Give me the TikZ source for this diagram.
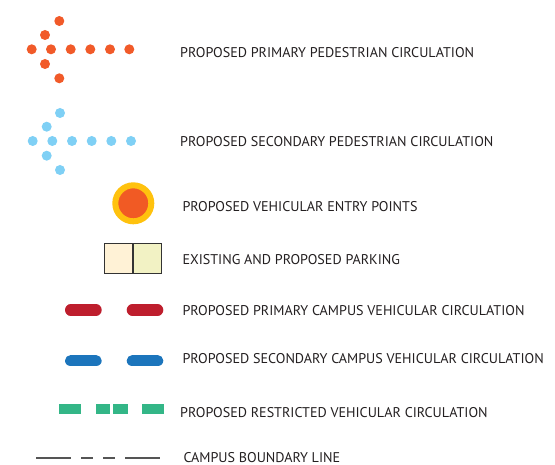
\documentclass[tikz,border=0pt]{standalone}
\usepackage{fontspec}
\setmainfont{PT Sans}
\usetikzlibrary{positioning}
\definecolor{pedorange}{HTML}{F15A29}
\definecolor{pedblue}{HTML}{7FD0F5}
\definecolor{entryyellow}{HTML}{FFC20E}
\definecolor{entryorange}{HTML}{F15A24}
\definecolor{parkleft}{HTML}{FFF2D6}
\definecolor{parkright}{HTML}{F2F2C4}
\definecolor{vehred}{HTML}{BE1E2D}
\definecolor{vehblue}{HTML}{1C75BC}
\definecolor{restgreen}{HTML}{33B687}
\definecolor{linegray}{HTML}{555555}
\definecolor{textgray}{HTML}{231F20}
\begin{document}
\begin{tikzpicture}[x=1pt,y=-1pt,
        dot/.style={circle,fill=#1,minimum size=10pt,inner sep=0pt},
        lbl/.style={anchor=west,inner sep=0pt,text=textgray,font=\fontsize{14.1}{16}\selectfont},
        bar/.style={line width=11.4pt,line cap=round,#1},
        greenbox/.style={fill=restgreen,draw=none}]
\useasboundingbox (0,0) rectangle (555,465);

% primary pedestrian arrow
\foreach \i/\x in {1/31.7,2/51,3/70.7,4/90.3,5/110,6/129.3}
    \node[dot=pedorange] (pp\i) at (\x,49.3) {};
\node[dot=pedorange] (pu1) at (45,35) {};
\node[dot=pedorange] (pu2) at (59.3,21) {};
\node[dot=pedorange] (pd1) at (45,64) {};
\node[dot=pedorange] (pd2) at (59.3,78.3) {};

% secondary pedestrian arrow
\foreach \i/\x in {1/32.7,2/52.3,3/72,4/91.7,5/111.3,6/131}
    \node[dot=pedblue] (sp\i) at (\x,141) {};
\node[dot=pedblue] (su1) at (46.7,126.7) {};
\node[dot=pedblue] (su2) at (60,113) {};
\node[dot=pedblue] (sd1) at (46.7,155.7) {};
\node[dot=pedblue] (sd2) at (60,170) {};

% entry point
\node[circle,fill=entryorange,draw=entryyellow,line width=6pt,
    minimum size=36pt,inner sep=0pt] (entry) at (133.3,203.3) {};

% parking
\node[draw=black!80,fill=parkleft,line width=1.2pt,minimum width=28pt,
    minimum height=30pt,inner sep=0pt,anchor=east] (parkA) at (133,258.3) {};
\node[draw=black!80,fill=parkright,line width=1.2pt,minimum width=28pt,
    minimum height=30pt,inner sep=0pt,anchor=west] (parkB) at (133,258.3) {};

% vehicular circulation
\draw[bar=vehred] (70.7,310) -- (96,310);
\draw[bar=vehred] (132.4,310) -- (157.6,310);
\draw[bar=vehblue] (70.7,360.8) -- (96,360.8);
\draw[bar=vehblue] (132.4,360.8) -- (157.6,360.8);

% restricted
\fill[greenbox] (59.3,404.3) rectangle (81.3,414.3);
\fill[greenbox] (96,404.3) rectangle (110.3,414.3);
\fill[greenbox] (113,404.3) rectangle (127.7,414.3);
\fill[greenbox] (142.3,404.3) rectangle (164.3,414.3);

% boundary
\draw[linegray,line width=1.6pt] (36,457.7) -- (71,457.7)
    (81,457.7) -- (93,457.7) (103,457.7) -- (115,457.7) (125,457.7) -- (160,457.7);

% labels
\node[lbl] (t1) at (180,52.8) {PROPOSED PRIMARY PEDESTRIAN CIRCULATION};
\node[lbl] (t2) at (180,142) {PROPOSED SECONDARY PEDESTRIAN CIRCULATION};
\node[lbl] (t3) at (182.3,206.7) {PROPOSED VEHICULAR ENTRY POINTS};
\node[lbl] (t4) at (182.3,260) {EXISTING AND PROPOSED PARKING};
\node[lbl] (t5) at (182.3,310.5) {PROPOSED PRIMARY CAMPUS VEHICULAR CIRCULATION};
\node[lbl] (t6) at (182.3,359) {PROPOSED SECONDARY CAMPUS VEHICULAR CIRCULATION};
\node[lbl] (t7) at (180,412.5) {PROPOSED RESTRICTED VEHICULAR CIRCULATION};
\node[lbl] (t8) at (183.3,457.3) {CAMPUS BOUNDARY LINE};
\end{tikzpicture}
\end{document}
